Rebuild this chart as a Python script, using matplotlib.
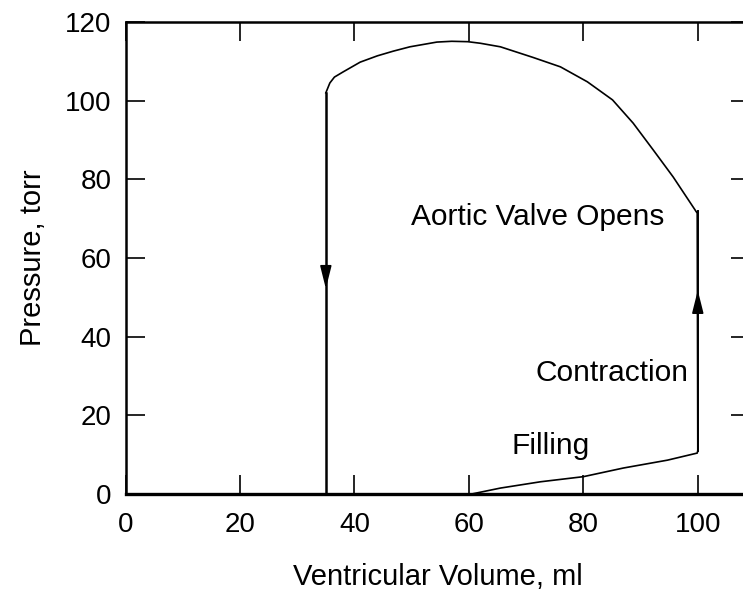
import matplotlib
matplotlib.use('Agg')
import matplotlib.pyplot as plt

# Pressure-volume loop
# ejection (aortic valve open) arc, going from 100 ml back to 35 ml
ejection_vol = [100, 99.9, 95.7, 92.2, 88.7, 85.1, 80.7, 76, 71.2, 65.5, 62, 59.8,
                57, 54.4, 49.7, 46.8, 44, 41, 38, 36.5, 35.7, 35]
ejection_pres = [11, 71.4, 80.6, 87.5, 94.3, 100.2, 104.8, 108.6, 111, 113.7, 114.6, 115,
                 115.1, 114.9, 113.7, 112.6, 111.4, 109.8, 107.3, 106, 104.5, 102]
# relaxation drop and filling
relax_vol = [35, 35, 60.5]
relax_pres = [102, 0, 0]
filling_vol = [60.5, 65.5, 72.5, 80, 87, 94.7, 99.9, 100]
filling_pres = [0, 1.5, 3.1, 4.4, 6.6, 8.6, 10.4, 11]

x_ticks = [0, 20, 40, 60, 80, 100]
y_ticks = [0, 20, 40, 60, 80, 100, 120]

plt.rcParams['font.family'] = ['Liberation Sans', 'DejaVu Sans']

fig = plt.figure(figsize=(7.43, 6), dpi=100)
ax = fig.add_axes([0.169, 0.1767, 0.841, 0.7866])

ax.plot(ejection_vol, ejection_pres, color='black', linewidth=1.2)
ax.plot(relax_vol, relax_pres, color='black', linewidth=1.8)
ax.plot(filling_vol, filling_pres, color='black', linewidth=1.2)
ax.plot([100, 100], [11, 72], color='black', linewidth=1.4)

# direction arrows on the two vertical segments
ax.annotate('', xy=(35, 51.5), xytext=(35, 57),
            arrowprops=dict(arrowstyle='-|>,head_length=1.4,head_width=0.35',
                            color='black', lw=1.2))
ax.annotate('', xy=(100, 52.5), xytext=(100, 47),
            arrowprops=dict(arrowstyle='-|>,head_length=1.4,head_width=0.35',
                            color='black', lw=1.2))

ax.text(72.1, 70.4, 'Aortic Valve Opens', fontsize=21.5, ha='center', va='center')
ax.text(98.3, 30.8, 'Contraction', fontsize=21.5, ha='right', va='center')
ax.text(74.2, 12.3, 'Filling', fontsize=21.5, ha='center', va='center')

ax.set_xlim(0, 109.2)
ax.set_ylim(0, 120)
ax.set_xticks(x_ticks)
ax.set_yticks(y_ticks)
ax.tick_params(direction='in', length=14, width=1.2, labelsize=20,
               top=True, right=True)
ax.tick_params(axis='x', pad=13)
ax.tick_params(axis='y', pad=10)
for side in ['left', 'bottom', 'top', 'right']:
    ax.spines[side].set_linewidth(1.8)
ax.spines['bottom'].set_linewidth(2.4)

ax.set_xlabel('Ventricular Volume, ml', fontsize=21, labelpad=18)
ax.set_ylabel('Pressure, torr', fontsize=21, labelpad=13)

fig.savefig('out.png', dpi=100)
